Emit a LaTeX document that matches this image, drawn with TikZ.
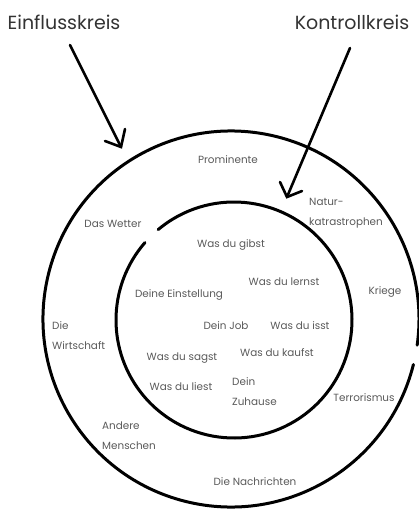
\documentclass[tikz,border=0pt]{standalone}
\usepackage{fontspec}
\setmainfont{Poppins}
\begin{document}
\begin{tikzpicture}[x=1pt,y=-1pt,
  ring/.style={line width=3pt, line cap=round},
  pointer/.style={line width=2.6pt, line cap=round},
  title/.style={font=\fontsize{19}{22}\selectfont, text=black!80, inner sep=0pt},
  lbl/.style={font=\fontsize{10.4}{20}\selectfont, text=black!65, inner sep=0pt, align=left}]
\useasboundingbox (0,0) rectangle (419,509);
% circles
\draw[ring] (231,319) ++(14:188) arc[start angle=14, end angle=368, radius=188];
\draw[ring] (234,320) ++(230:118) arc[start angle=230, end angle=581, radius=118];
% titles
\node[title] (einfluss) at (64,22) {Einflusskreis};
\node[title] (kontroll) at (352,22) {Kontrollkreis};
% arrows
\coordinate (e0) at (70,45);
\coordinate (e1) at (121,147);
\coordinate (eb1) at (125,129);
\coordinate (eb2) at (105,141);
\draw[pointer] (e0) -- (e1);
\draw[pointer] (eb1) -- (e1) -- (eb2);
\coordinate (k0) at (350,48);
\coordinate (k1) at (287,197);
\coordinate (kb1) at (280,182);
\coordinate (kb2) at (302,191);
\draw[pointer] (k0) -- (k1);
\draw[pointer] (kb1) -- (k1) -- (kb2);
% outer labels
\node[lbl] (prom) at (228,160) {Prominente};
\node[lbl, anchor=west] (natur) at (309,213) {Natur-\\katrastrophen};
\node[lbl] (wetter) at (113,224) {Das Wetter};
\node[lbl] (kriege) at (385,292) {Kriege};
\node[lbl, anchor=west] (wirt) at (52,336) {Die\\Wirtschaft};
\node[lbl] (terror) at (364,398) {Terrorismus};
\node[lbl, anchor=west] (andere) at (102,436) {Andere\\Menschen};
\node[lbl] (nachr) at (255,482) {Die Nachrichten};
% inner labels
\node[lbl] (gibst) at (231,245) {Was du gibst};
\node[lbl] (lernst) at (284,282) {Was du lernst};
\node[lbl] (einst) at (179,295) {Deine Einstellung};
\node[lbl] (job) at (226,326) {Dein Job};
\node[lbl] (isst) at (300,326) {Was du isst};
\node[lbl] (sagst) at (182,358) {Was du sagst};
\node[lbl] (kaufst) at (277,353) {Was du kaufst};
\node[lbl] (liest) at (181,387) {Was du liest};
\node[lbl, anchor=west] (zuhause) at (232,392) {Dein\\Zuhause};
\end{tikzpicture}
\end{document}
